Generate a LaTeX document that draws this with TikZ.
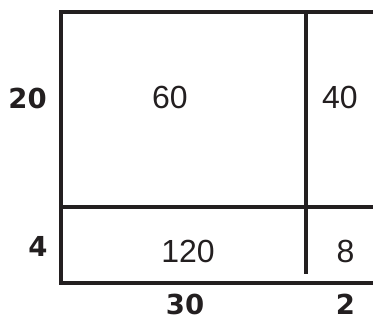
\documentclass[tikz,border=0pt]{standalone}
\usepackage{fontspec}
\setmainfont{Liberation Sans}
\newfontfamily\heavyfont{DejaVu Sans}[BoldFont={DejaVu Sans Bold}]
\usepackage{tikz}
\usetikzlibrary{positioning,calc}
\definecolor{ink}{RGB}{35,31,32}

\begin{document}
\begin{tikzpicture}[
    x=1pt, y=-1pt,
    wall/.style={draw=ink, line width=3.6pt},
    area/.style={text=ink, font=\fontsize{32}{36}\selectfont, inner sep=0pt},
    side/.style={text=ink, font=\heavyfont\bfseries\fontsize{27.5}{31}\selectfont, inner sep=0pt}
]
\useasboundingbox (0,0) rectangle (373,320);

% corners of the split rectangle
\coordinate (tl) at (61,12);
\coordinate (tr) at (373,12);
\coordinate (bl) at (61,283);
\coordinate (br) at (373,283);
\coordinate (ml) at (61,207);
\coordinate (mr) at (373,207);
\coordinate (vt) at (306,12);
\coordinate (vb) at (306,274);

\draw[wall] (tr) -- (tl) -- (bl) -- (br);
\draw[wall] (ml) -- (mr);
\draw[wall] (vt) -- (vb);

% areas
\node[area] (big) at (170,97.5) {60};
\node[area] (right) at (340,97.5) {40};
\node[area] (low) at (188,251) {120};
\node[area] (small) at (345.5,251) {8};

% side lengths
\node[side] (h1) at (27.5,98.5) {20};
\node[side] (h2) at (38,246) {4};
\node[side] (w1) at (185,304.5) {30};
\node[side] (w2) at (345.5,304.5) {2};
\end{tikzpicture}
\end{document}
